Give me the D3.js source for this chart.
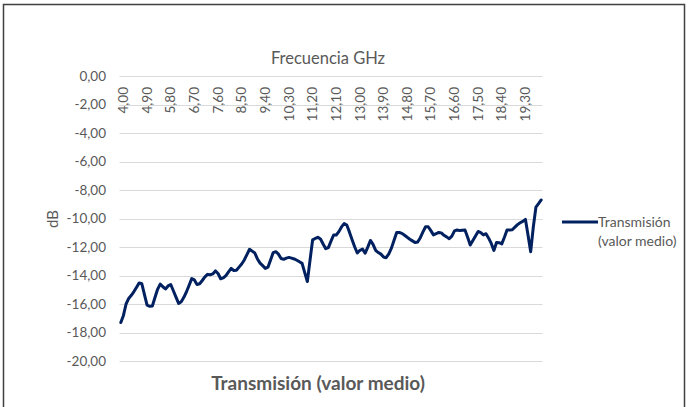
<!DOCTYPE html>
<html>
<head>
<meta charset="utf-8">
<script src="https://cdn.jsdelivr.net/npm/d3@7"></script>
<style>
  body { margin: 0; background: #fff; }
  svg { display: block; font-family: Lato, "Open Sans", sans-serif; }
</style>
</head>
<body>
<div class="chart"></div>
<script>
// frequency in GHz, 4.0 .. 20.0 every 0.1
var freqs = d3.range(40, 201).map(function (d) { return d / 10; });
// transmission mean value (dB)
var transmision = [
  -17.30, -16.80, -16.00, -15.61, -15.39, -15.13, -14.82, -14.52, -14.58, -15.34,
  -16.08, -16.16, -16.14, -15.54, -14.97, -14.60, -14.79, -14.94, -14.73, -14.63,
  -15.07, -15.52, -15.96, -15.84, -15.53, -15.14, -14.68, -14.22, -14.31, -14.63,
  -14.58, -14.35, -14.10, -13.92, -13.95, -13.89, -13.68, -13.86, -14.23, -14.17,
  -14.01, -13.74, -13.50, -13.65, -13.63, -13.41, -13.19, -12.91, -12.53, -12.16,
  -12.29, -12.42, -12.84, -13.13, -13.31, -13.50, -13.42, -12.91, -12.39, -12.33,
  -12.50, -12.81, -12.86, -12.78, -12.73, -12.78, -12.84, -12.93, -13.04, -13.15,
  -13.80, -14.42, -12.95, -11.50, -11.40, -11.32, -11.44, -11.79, -12.12, -12.04,
  -11.59, -11.16, -11.16, -10.92, -10.59, -10.36, -10.46, -10.94, -11.47, -11.98,
  -12.42, -12.23, -12.15, -12.43, -12.01, -11.54, -11.81, -12.23, -12.39, -12.50,
  -12.70, -12.75, -12.48, -12.08, -11.53, -10.99, -10.98, -11.04, -11.18, -11.32,
  -11.45, -11.57, -11.69, -11.65, -11.35, -10.94, -10.58, -10.58, -10.85, -11.15,
  -11.07, -10.98, -11.01, -11.18, -11.29, -11.42, -11.24, -10.87, -10.81, -10.85,
  -10.83, -10.81, -11.31, -11.86, -11.55, -11.23, -10.91, -10.99, -11.15, -11.07,
  -11.38, -11.75, -12.24, -11.69, -11.70, -11.78, -11.32, -10.81, -10.81, -10.79,
  -10.61, -10.43, -10.30, -10.20, -10.06, -11.17, -12.33, -10.60, -9.20, -8.96,
  -8.70
];
// category labels shown on the top axis (every 9th)
var tickLabels = ["4,00", "4,90", "5,80", "6,70", "7,60", "8,50", "9,40", "10,30", "11,20",
  "12,10", "13,00", "13,90", "14,80", "15,70", "16,60", "17,50", "18,40", "19,30"];
var yTicks = [0, -2, -4, -6, -8, -10, -12, -14, -16, -18, -20];

var width = 688, height = 407;
var plot = { left: 119.5, right: 542.5, top: 76, bottom: 361 };
var textColor = "#595959";

var locale = d3.formatLocale({ decimal: ",", thousands: ".", grouping: [3], currency: ["", "€"], minus: "-" });
var fmt = locale.format(".2f");

var svg = d3.select(".chart").append("svg")
  .attr("width", width)
  .attr("height", height);

// outer frame
svg.append("rect")
  .attr("x", 3.5).attr("y", 4.5)
  .attr("width", 681).attr("height", 420)
  .attr("fill", "none")
  .attr("stroke", "#404040")
  .attr("stroke-width", 1.5);

var x = d3.scalePoint()
  .domain(d3.range(freqs.length))
  .range([plot.left, plot.right])
  .padding(0.5);
var y = d3.scaleLinear().domain([-20, 0]).range([plot.bottom, plot.top]);

// gridlines
svg.append("g")
  .selectAll("line")
  .data(yTicks)
  .join("line")
  .attr("x1", plot.left).attr("x2", plot.right)
  .attr("y1", function (d) { return Math.round(y(d)) + 0.5; })
  .attr("y2", function (d) { return Math.round(y(d)) + 0.5; })
  .attr("stroke", "#d9d9d9")
  .attr("stroke-width", 1);

// y axis labels
var yAxis = d3.axisLeft(y).tickValues(yTicks).tickFormat(fmt).tickSize(0).tickPadding(0);
var gy = svg.append("g")
  .attr("transform", "translate(106,0)")
  .call(yAxis);
gy.select(".domain").remove();
gy.selectAll("text")
  .attr("fill", textColor)
  .style("font-size", "13.5px")
  .style("font-family", "Lato, sans-serif");

// top category axis: labels every 9th category, rotated
var labelIdx = tickLabels.map(function (d, i) { return i * 9; });
svg.append("g")
  .selectAll("text")
  .data(labelIdx)
  .join("text")
  .attr("transform", function (d) { return "translate(" + (x(d) + 2.5) + ",87) rotate(-90)"; })
  .attr("dy", "0.35em")
  .attr("text-anchor", "end")
  .attr("fill", textColor)
  .style("font-size", "13.5px")
  .text(function (d, i) { return tickLabels[i]; });

// axis title top
svg.append("text")
  .attr("x", 328).attr("y", 64)
  .attr("text-anchor", "middle")
  .attr("fill", textColor)
  .style("font-size", "16.5px")
  .text("Frecuencia GHz");

// y axis title
svg.append("text")
  .attr("transform", "translate(58,219) rotate(-90)")
  .attr("text-anchor", "middle")
  .attr("fill", textColor)
  .style("font-size", "15px")
  .text("dB");

// the line
var valueLine = d3.line()
  .x(function (d, i) { return x(i); })
  .y(function (d) { return y(d); });
svg.append("path")
  .datum(transmision)
  .attr("fill", "none")
  .attr("stroke", "#002060")
  .attr("stroke-width", 3)
  .attr("stroke-linejoin", "round")
  .attr("stroke-linecap", "round")
  .attr("d", valueLine);

// bottom title
svg.append("text")
  .attr("x", 318).attr("y", 390)
  .attr("text-anchor", "middle")
  .attr("fill", textColor)
  .style("font-size", "19px")
  .style("font-weight", "bold")
  .text("Transmisión (valor medio)");

// legend
svg.append("line")
  .attr("x1", 562).attr("x2", 598)
  .attr("y1", 222).attr("y2", 222)
  .attr("stroke", "#002060")
  .attr("stroke-width", 3);
svg.append("text")
  .attr("x", 598).attr("y", 227)
  .attr("fill", textColor)
  .style("font-size", "14px")
  .text("Transmisión");
svg.append("text")
  .attr("x", 598).attr("y", 246)
  .attr("fill", textColor)
  .style("font-size", "14px")
  .text("(valor medio)");
</script>
</body>
</html>
